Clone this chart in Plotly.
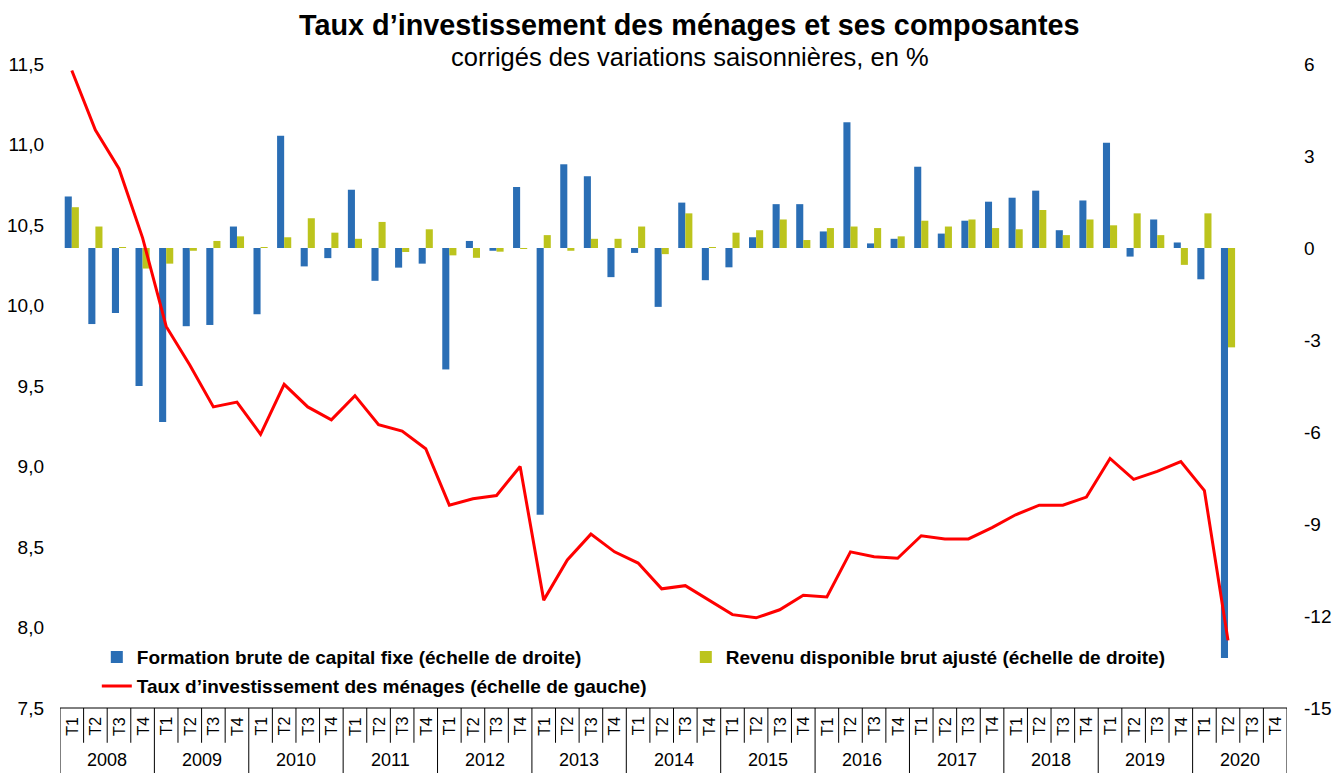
import plotly.graph_objects as go

# ---------------- data ----------------
years = [str(y) for y in range(2008, 2021)]
quarters = ["T1", "T2", "T3", "T4"]

# Formation brute de capital fixe (variation, %, échelle de droite)
fbcf = [1.68, -2.48, -2.12, -4.50,
        -5.67, -2.55, -2.51, 0.70,
        -2.16, 3.66, -0.60, -0.33,
        1.90, -1.07, -0.64, -0.51,
        -3.96, 0.23, -0.09, 1.99,
        -8.70, 2.73, 2.34, -0.95,
        -0.16, -1.92, 1.48, -1.05,
        -0.63, 0.35, 1.43, 1.43,
        0.54, 4.10, 0.15, 0.30,
        2.65, 0.47, 0.89, 1.51,
        1.64, 1.87, 0.58, 1.55,
        3.43, -0.28, 0.93, 0.18,
        -1.02, -13.37]

# Revenu disponible brut ajusté (variation, %, échelle de droite)
rdb = [1.33, 0.70, 0.02, -0.67,
       -0.51, -0.09, 0.23, 0.38,
       0.02, 0.35, 0.97, 0.50,
       0.30, 0.85, -0.13, 0.61,
       -0.24, -0.32, -0.12, -0.03,
       0.42, -0.09, 0.30, 0.30,
       0.70, -0.20, 1.13, 0.02,
       0.50, 0.58, 0.93, 0.26,
       0.65, 0.70, 0.65, 0.38,
       0.89, 0.70, 0.93, 0.65,
       0.61, 1.24, 0.42, 0.93,
       0.74, 1.13, 0.42, -0.55,
       1.13, -3.24]

# Taux d'investissement des ménages (%, échelle de gauche)
taux = [11.46, 11.09, 10.85, 10.42,
        9.87, 9.63, 9.37, 9.40,
        9.20, 9.51, 9.37, 9.29,
        9.44, 9.26, 9.22, 9.11,
        8.76, 8.80, 8.82, 9.00,
        8.17, 8.42, 8.58, 8.47,
        8.40, 8.24, 8.26, 8.17,
        8.08, 8.06, 8.11, 8.20,
        8.19, 8.47, 8.44, 8.43,
        8.57, 8.55, 8.55, 8.62,
        8.70, 8.76, 8.76, 8.81,
        9.05, 8.92, 8.97, 9.03,
        8.85, 7.92]

left_ticks = [7.5, 8.0, 8.5, 9.0, 9.5, 10.0, 10.5, 11.0, 11.5]
right_ticks = [6, 3, 0, -3, -6, -9, -12, -15]

title_text = "Taux d\u2019investissement des ménages et ses composantes"
subtitle_text = "corrigés des variations saisonnières, en %"
name_fbcf = "Formation brute de capital fixe (échelle de droite)"
name_rdb = "Revenu disponible brut ajusté (échelle de droite)"
name_taux = "Taux d\u2019investissement des ménages (échelle de gauche)"

# ---------------- figure ----------------
FONT = "Arial, Liberation Sans, sans-serif"
BLUE = "#2A6EB5"
GREEN = "#BCC41D"
RED = "#FF0000"

n_cat = len(years) * len(quarters)
x_data = list(range(len(fbcf)))

fig = go.Figure()
fig.add_trace(go.Bar(x=x_data, y=fbcf, name=name_fbcf, marker_color=BLUE,
                     marker_line_width=0, yaxis="y", legend="legend"))
fig.add_trace(go.Bar(x=x_data, y=rdb, name=name_rdb, marker_color=GREEN,
                     marker_line_width=0, yaxis="y", legend="legend"))
fig.add_trace(go.Scatter(x=list(range(len(taux))), y=taux, name=name_taux,
                         mode="lines", line=dict(color=RED, width=3),
                         yaxis="y2", legend="legend2"))

# category "table" under the plot
shapes = []
line_style = dict(color="black", width=1)
shapes.append(dict(type="line", xref="x", yref="paper", x0=-0.5, x1=n_cat - 0.5,
                   y0=0, y1=0, line=line_style))
for i in range(n_cat + 1):
    xb = i - 0.5
    is_year = (i % 4 == 0)
    shapes.append(dict(type="line", xref="x", yref="paper", x0=xb, x1=xb,
                       y0=0, y1=-0.12 if is_year else -0.054, line=line_style))

annotations = []
for yi, yr in enumerate(years):
    for qi, q in enumerate(quarters):
        idx = yi * 4 + qi
        annotations.append(dict(x=idx, y=-0.028, xref="x", yref="paper", text=q,
                                textangle=-90, showarrow=False,
                                font=dict(family=FONT, size=16, color="black"),
                                xanchor="center", yanchor="middle"))
    annotations.append(dict(x=yi * 4 + 1.5, y=-0.081, xref="x", yref="paper", text=yr,
                            showarrow=False, font=dict(family=FONT, size=18, color="black"),
                            xanchor="center", yanchor="middle"))

annotations.append(dict(x=0.5134, y=1.0606, xref="paper", yref="paper",
                        text="<b>" + title_text + "</b>", showarrow=False,
                        font=dict(family=FONT, size=28.8, color="black"),
                        xanchor="center", yanchor="middle"))
annotations.append(dict(x=0.5134, y=1.0109, xref="paper", yref="paper",
                        text=subtitle_text, showarrow=False,
                        font=dict(family=FONT, size=25.5, color="black"),
                        xanchor="center", yanchor="middle"))

fig.update_layout(
    width=1335, height=773,
    margin=dict(l=60, r=48, t=64, b=65, autoexpand=False),
    paper_bgcolor="white", plot_bgcolor="white",
    font=dict(family=FONT, size=19, color="black"),
    barmode="group", bargap=0.4, bargroupgap=0,
    showlegend=True,
    xaxis=dict(range=[-0.5, n_cat - 0.5], showticklabels=False, ticks="",
               showgrid=False, zeroline=False, showline=False, fixedrange=True,
               automargin=False),
    yaxis=dict(side="right", range=[-15, 6], tickvals=right_ticks,
               ticktext=[str(v) for v in right_ticks], showgrid=False,
               zeroline=False, showline=False, ticks="", ticklabelstandoff=16,
               automargin=False,
               tickfont=dict(family=FONT, size=19, color="black")),
    yaxis2=dict(side="left", overlaying="y", range=[7.5, 11.5], tickvals=left_ticks,
                ticktext=[f"{v:.1f}".replace(".", ",") for v in left_ticks],
                showgrid=False, zeroline=False, showline=False, ticks="",
                ticklabelstandoff=15, automargin=False,
                tickfont=dict(family=FONT, size=19, color="black")),
    legend=dict(orientation="h", x=0.030, y=0.079, xanchor="left", yanchor="middle",
                entrywidth=544, bgcolor="rgba(0,0,0,0)",
                font=dict(family=FONT, size=19, color="black", weight="bold"),
                traceorder="normal"),
    legend2=dict(orientation="h", x=0.030, y=0.034, xanchor="left", yanchor="middle",
                 bgcolor="rgba(0,0,0,0)",
                 font=dict(family=FONT, size=19, color="black", weight="bold")),
    shapes=shapes,
    annotations=annotations,
)

fig.write_html("out.html", config={"displayModeBar": False},
               post_script="document.body.style.margin='0px';document.body.style.overflow='hidden';")
